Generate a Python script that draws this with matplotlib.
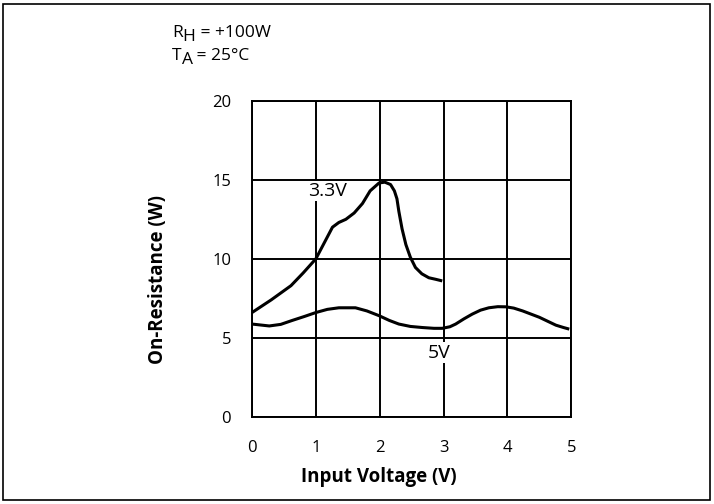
import matplotlib.pyplot as plt
from matplotlib.patches import Rectangle

plt.rcParams['font.family'] = ['Open Sans', 'DejaVu Sans']

# data
v33_x = [0.0, 0.3, 0.61, 0.8, 1.0, 1.13, 1.26, 1.36, 1.47, 1.6, 1.73, 1.85, 1.99, 2.08,
         2.17, 2.23, 2.27, 2.30, 2.35, 2.41, 2.48, 2.56, 2.66, 2.77, 2.88, 2.98]
v33_y = [6.6, 7.4, 8.3, 9.1, 10.0, 11.0, 12.0, 12.3, 12.5, 12.9, 13.5, 14.3, 14.8, 14.85,
         14.7, 14.3, 13.8, 13.0, 11.9, 10.9, 10.1, 9.45, 9.05, 8.8, 8.7, 8.6]
v5_x = [0.0, 0.27, 0.45, 0.63, 0.82, 1.0, 1.18, 1.36, 1.62, 1.8, 1.99, 2.15, 2.30, 2.48,
        2.67, 2.85, 2.98, 3.1, 3.19, 3.32, 3.45, 3.58, 3.71, 3.85, 3.98, 4.1, 4.24, 4.37,
        4.5, 4.63, 4.76, 4.88, 4.97]
v5_y = [5.87, 5.75, 5.85, 6.1, 6.35, 6.6, 6.8, 6.9, 6.9, 6.7, 6.4, 6.1, 5.87, 5.72,
        5.65, 5.6, 5.6, 5.7, 5.87, 6.2, 6.5, 6.75, 6.9, 6.97, 6.96, 6.88, 6.7, 6.5,
        6.3, 6.05, 5.8, 5.65, 5.55]

x_ticks = [0, 1, 2, 3, 4, 5]
y_ticks = [0, 5, 10, 15, 20]

fig = plt.figure(figsize=(7.14, 5.04), dpi=100)
ax = fig.add_axes([0.353, 0.173, 0.447, 0.627])

ax.plot(v33_x, v33_y, color='black', lw=2.2, solid_capstyle='butt')
ax.plot(v5_x, v5_y, color='black', lw=2.2, solid_capstyle='butt')

ax.set_xlim(0, 5)
ax.set_ylim(0, 20)
ax.set_xticks(x_ticks)
ax.set_yticks(y_ticks)
ax.grid(True, color='black', lw=1.4)
ax.tick_params(length=0, labelsize=12)
ax.tick_params(axis='y', pad=15)
ax.tick_params(axis='x', pad=17)
for s in ax.spines.values():
    s.set_linewidth(1.4)

# axis titles sit off-centre in the original
ax.set_xlabel('Input Voltage (V)', fontsize=13.5, fontweight='bold')
ax.set_ylabel('On-Resistance (W)', fontsize=13.5, fontweight='bold')
ax.xaxis.set_label_coords(0.398, -0.158)
ax.yaxis.set_label_coords(-0.262, 0.434)

ax.text(1.18, 14.3, '3.3V', fontsize=14, ha='center', va='center',
        bbox=dict(facecolor='white', edgecolor='none', pad=1))
ax.text(2.93, 4.05, '5V', fontsize=14, ha='center', va='center',
        bbox=dict(facecolor='white', edgecolor='none', pad=1))

# header lines with full-size lowered subscripts
renderer = fig.canvas.get_renderer()


def header(x0, y0, main, sub, rest):
    t = fig.text(x0, y0, main, fontsize=12.5, va='baseline')
    bb = t.get_window_extent(renderer)
    xs = bb.x1 / fig.bbox.width
    t2 = fig.text(xs, y0 - 4.5 / 504, sub, fontsize=12.5, va='baseline')
    bb2 = t2.get_window_extent(renderer)
    fig.text(bb2.x1 / fig.bbox.width, y0, rest, fontsize=12.5, va='baseline')


header(172 / 714, 1 - 37 / 504, 'R', 'H', ' = +100W')
header(172 / 714, 1 - 59.5 / 504, 'T', 'A', ' = 25°C')

fig.patches.append(Rectangle((3 / 714, 4 / 504), 707 / 714, 496 / 504, transform=fig.transFigure,
                             fill=False, edgecolor='black', lw=1.2))

fig.savefig('out.png', dpi=100)
